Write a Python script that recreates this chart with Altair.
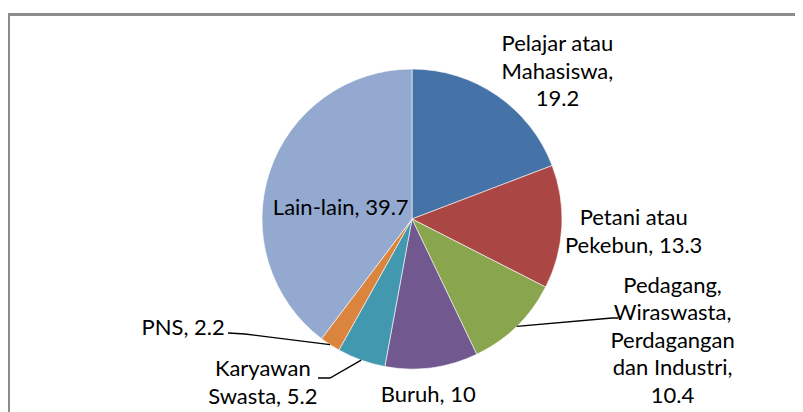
import math
import altair as alt
import pandas as pd

# ---- data -------------------------------------------------------------
categories = [
    "Pelajar atau Mahasiswa",
    "Petani atau Pekebun",
    "Pedagang, Wiraswasta, Perdagangan dan Industri",
    "Buruh",
    "Karyawan Swasta",
    "PNS",
    "Lain-lain",
]
values = [19.2, 13.3, 10.4, 10, 5.2, 2.2, 39.7]
label_texts = [
    "Pelajar atau\nMahasiswa,\n19.2",
    "Petani atau\nPekebun, 13.3",
    "Pedagang,\nWiraswasta,\nPerdagangan\ndan Industri,\n10.4",
    "Buruh, 10",
    "Karyawan\nSwasta, 5.2",
    "PNS, 2.2",
    "Lain-lain, 39.7",
]
colors = ["#4572A7", "#AA4643", "#89A54E", "#71588F", "#4198AF", "#DB843D", "#93A9CF"]

df = pd.DataFrame({
    "idx": list(range(len(categories))),
    "category": categories,
    "value": values,
    "label": label_texts,
})

# ---- style / layout ---------------------------------------------------
W, H = 787, 404
CX, CY = 404, 211
R = 150
FONT = "Lato"
FS = 22
LH = 27.5

# per-label placement: radial distance along mid-angle + nudges (block centre)
layout = {
    categories[0]: dict(r=207, dx=28, dy=23, align="center"),
    categories[1]: dict(r=222, dx=0, dy=1, align="center"),
    categories[2]: dict(r=230, dx=100, dy=-43, align="center"),
    categories[3]: dict(r=177, dx=-7, dy=1, align="center"),
    categories[4]: dict(r=222, dx=-74, dy=-45, align="center"),
    categories[5]: dict(r=200, dx=-78, dy=-59, align="right"),
    categories[6]: dict(r=72, dx=-3, dy=12, align="center"),
}

# leader lines: from slice edge (mid-angle) to elbow, then short horizontal
leader_tail = {
    categories[2]: [(200, 99), (206, 99)],
    categories[4]: [(-82, 159), (-94, 159)],
    categories[5]: [(-167, 115), (-184, 114)],
}

total = sum(values)
rows = []
cum = 0.0
for cat, v in zip(categories, values):
    mid = (cum + v / 2) / total * 2 * math.pi
    cum += v
    if cat in leader_tail:
        pts = [(R * math.sin(mid), -R * math.cos(mid))] + leader_tail[cat]
        for k, (px, py) in enumerate(pts):
            rows.append({"category": cat, "seq": k, "px": CX + px, "py": CY + py})
leaders = pd.DataFrame(rows)

base = alt.Chart(df)

pie = base.mark_arc(outerRadius=R, stroke="#ffffff", strokeWidth=0.6).encode(
    theta=alt.Theta("value:Q", stack=True),
    order=alt.Order("idx:Q"),
    color=alt.Color("category:N", scale=alt.Scale(domain=categories, range=colors), legend=None),
    x=alt.value(CX),
    y=alt.value(CY),
)

label_base = base.transform_window(
    cum="sum(value)", sort=[alt.SortField("idx")], frame=[None, 0]
).transform_joinaggregate(total="sum(value)").transform_calculate(
    mid="(datum.cum - datum.value/2) / datum.total * 2 * PI"
)

label_layers = []
for cat, txt in zip(categories, label_texts):
    L = layout[cat]
    n_lines = txt.count("\n") + 1
    label_layers.append(
        label_base.transform_filter(alt.datum.category == cat).mark_text(
            radius=L["r"], dx=L["dx"], dy=L["dy"] - (n_lines - 1) * LH / 2,
            align=L["align"], baseline="middle",
            lineBreak="\n", lineHeight=LH, font=FONT, fontSize=FS, color="#000000",
        ).encode(
            theta=alt.Theta("mid:Q", scale=None),
            text="label:N",
            x=alt.value(CX),
            y=alt.value(CY),
        )
    )

lines = alt.Chart(leaders).mark_line(color="#000000", strokeWidth=1.3).encode(
    x=alt.X("px:Q", scale=None, axis=None),
    y=alt.Y("py:Q", scale=None, axis=None),
    detail="category:N",
    order="seq:Q",
)

frame_top = alt.Chart(df).mark_rule(color="#8c8c8c", strokeWidth=2).encode(
    x=alt.value(0), x2=alt.value(W), y=alt.value(6.5)
)
frame_left = alt.Chart(df).mark_rule(color="#8c8c8c", strokeWidth=2).encode(
    x=alt.value(1), y=alt.value(6.5), y2=alt.value(H)
)

chart = alt.layer(frame_top, frame_left, pie, lines, *label_layers).properties(
    width=W, height=H, autosize=alt.AutoSizeParams(type="none"), padding=0,
    background="#ffffff",
).configure_view(stroke=None)

chart.save("out.html", embed_options={"renderer": "svg", "actions": False})
